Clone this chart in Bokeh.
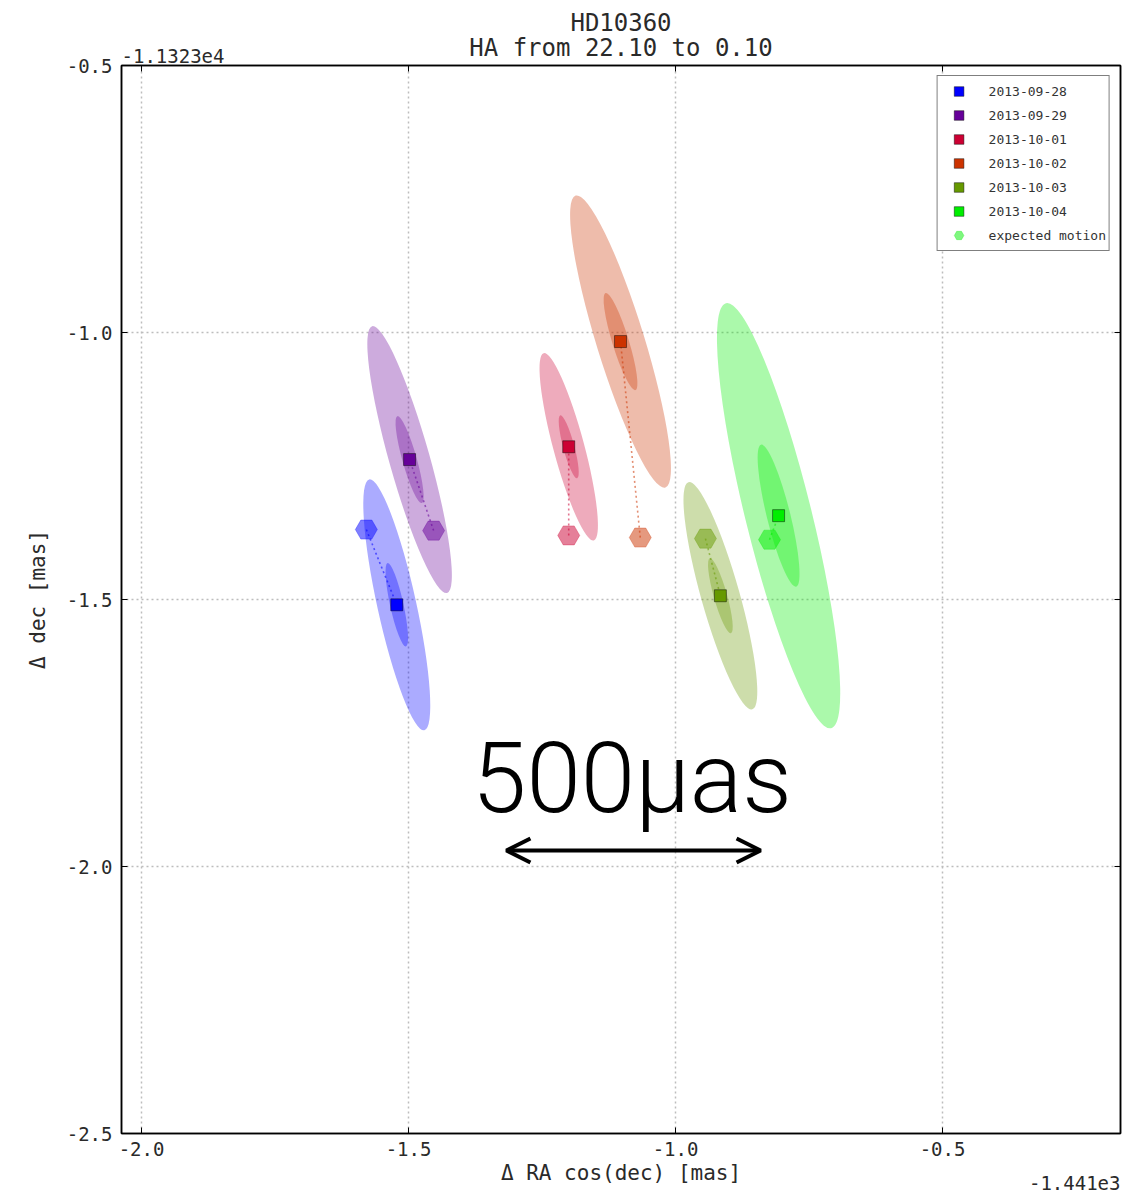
from bokeh.plotting import figure
from bokeh.models import (Range1d, FixedTicker, PrintfTickFormatter, LinearAxis, Title,
                          Label, Arrow, OpenHead, ColumnDataSource, Legend, LegendItem,
                          CustomLabelingPolicy)
from bokeh.embed import file_html
from bokeh.resources import INLINE

# ---------------- data ----------------
dates = ["2013-09-28", "2013-09-29", "2013-10-01", "2013-10-02", "2013-10-03", "2013-10-04"]
colors = ["#0000ff", "#660099", "#cc0033", "#cc3300", "#669900", "#00ee00"]
# measured positions (offset-subtracted, mas)
meas_x = [-1.522, -1.498, -1.200, -1.103, -0.916, -0.807]
meas_y = [-1.510, -1.238, -1.214, -1.017, -1.493, -1.343]
# expected motion positions
exp_x = [-1.579, -1.453, -1.200, -1.066, -0.944, -0.824]
exp_y = [-1.369, -1.371, -1.380, -1.384, -1.386, -1.388]
# error ellipses (full axes, mas; angle in degrees)
outer_major = [0.481, 0.519, 0.363, 0.572, 0.442, 0.820]
outer_minor = [0.073, 0.076, 0.058, 0.090, 0.072, 0.124]
inner_major = [0.160, 0.169, 0.122, 0.190, 0.146, 0.274]
inner_minor = [0.025, 0.027, 0.021, 0.031, 0.025, 0.044]
ell_angle = [102.4, 105.7, 105.0, 107.1, 105.7, 103.9]

x_ticks = [-2.0, -1.5, -1.0, -0.5]
y_ticks = [-2.5, -2.0, -1.5, -1.0, -0.5]
x_offset_text = "-1.441e3"
y_offset_text = "-1.1323e4"
title_main = "HD10360"
title_sub = "HA from 22.10 to 0.10"
x_label = "Δ RA cos(dec) [mas]"
y_label = "Δ dec [mas]"
scale_text = "500μas"
scale_len = 0.476
scale_center = (-1.0787, -1.970)
scale_text_pos = (-1.0815, -1.836)

X_START, X_END = -2.0375, -2.0375 + 999 / 534
Y_START, Y_END = -2.5, -0.5

src = ColumnDataSource(dict(mx=meas_x, my=meas_y, ex=exp_x, ey=exp_y, color=colors,
                            omaj=outer_major, omin=outer_minor, imaj=inner_major,
                            imin=inner_minor, ang=ell_angle, date=dates))

MONO = "DejaVu Sans Mono"
TXT = "#2a2a2a"

p = figure(frame_width=999, frame_height=1068,
           x_range=Range1d(X_START, X_END), y_range=Range1d(Y_START, Y_END),
           output_backend="svg", toolbar_location=None,
           min_border_left=121, min_border_right=20, min_border_top=65, min_border_bottom=66,
           background_fill_color="white", border_fill_color="white")
p.outline_line_color = "black"
p.outline_line_width = 1.5

# ellipses
p.ellipse(x="mx", y="my", width="omaj", height="omin", angle="ang", angle_units="deg",
          source=src, fill_color="color", fill_alpha=0.33, line_color=None)
p.ellipse(x="mx", y="my", width="imaj", height="imin", angle="ang", angle_units="deg",
          source=src, fill_color="color", fill_alpha=0.33, line_color=None)
# dotted connectors
p.segment(x0="ex", y0="ey", x1="mx", y1="my", source=src, line_color="color",
          line_alpha=0.55, line_width=1.6, line_dash="2 3")
# expected motion hexagons
r_hex = p.scatter(x="ex", y="ey", source=src, marker="hex", size=22,
                  fill_color="color", fill_alpha=0.5, line_color="color", line_alpha=0.3)
# measured squares
r_sq = p.scatter(x="mx", y="my", source=src, marker="square", size=12,
                 fill_color="color", line_color="black", line_alpha=0.45, line_width=1)

# axes
xt = FixedTicker(ticks=x_ticks, minor_ticks=[])
yt = FixedTicker(ticks=y_ticks, minor_ticks=[])
for ax, t in ((p.xaxis[0], xt), (p.yaxis[0], yt)):
    ax.ticker = t
    ax.formatter = PrintfTickFormatter(format="%.1f")
    ax.major_tick_in = 6
    ax.major_tick_out = 0
    ax.minor_tick_line_color = None
    ax.axis_line_color = "black"
    ax.axis_line_width = 1.5
    ax.major_tick_line_color = "black"
    ax.major_label_text_font = MONO
    ax.major_label_text_font_size = "19px"
    ax.major_label_text_color = TXT
    ax.major_label_standoff = 9
    ax.axis_label_text_font = MONO
    ax.axis_label_text_font_style = "normal"
    ax.axis_label_text_color = TXT
    ax.axis_label_text_font_size = "21px"
p.xaxis[0].axis_label = x_label
p.xaxis[0].major_label_standoff = 8
p.xaxis[0].axis_label_standoff = 2
p.yaxis[0].axis_label = y_label
p.yaxis[0].axis_label_standoff = 14

no_labels = CustomLabelingPolicy(code="for (const i of indices) indices.unset(i); return indices")
for loc, t in (("above", xt), ("right", yt)):
    ax = LinearAxis(ticker=t, major_tick_in=6, major_tick_out=0, minor_tick_line_color=None,
                    major_label_policy=no_labels, major_label_standoff=0,
                    axis_line_color="black", axis_line_width=1.5)
    p.add_layout(ax, loc)

p.xgrid.ticker = xt
p.ygrid.ticker = yt
for g in (p.xgrid, p.ygrid):
    g.grid_line_color = "#bdbdbd"
    g.grid_line_dash = "2 3"
    g.grid_line_width = 1.5

# x offset text: zero-height title below, lifted onto the axis-label line, right aligned
p.add_layout(Title(text=x_offset_text, align="right", vertical_align="top", text_font=MONO,
                   text_font_size="19px", text_font_style="normal", text_color=TXT,
                   standoff=-24), "below")

# top: offset text, subtitle (overlapping band), main title
p.add_layout(Title(text=y_offset_text, align="left", vertical_align="bottom", text_font=MONO,
                   text_font_size="19px", text_font_style="normal", text_color=TXT,
                   standoff=-16), "above")
p.add_layout(Title(text=title_sub, align="center", vertical_align="bottom", text_font=MONO,
                   text_font_size="24px", text_font_style="normal", text_color=TXT,
                   standoff=-14), "above")
p.add_layout(Title(text=title_main, align="center", vertical_align="bottom", text_font=MONO,
                   text_font_size="24px", text_font_style="normal", text_color=TXT,
                   standoff=4), "above")

# scale annotation
p.add_layout(Label(x=scale_text_pos[0], y=scale_text_pos[1], text=scale_text,
                   text_font="Roboto Light", text_font_size="98px", text_color="black",
                   text_align="center", text_baseline="middle"))
p.add_layout(Arrow(x_start=scale_center[0] - scale_len / 2, y_start=scale_center[1],
                   x_end=scale_center[0] + scale_len / 2, y_end=scale_center[1],
                   line_width=4, line_color="black",
                   start=OpenHead(size=24, line_width=4, line_color="black"),
                   end=OpenHead(size=24, line_width=4, line_color="black")))

# legend
items = [LegendItem(label=d, renderers=[r_sq], index=i) for i, d in enumerate(dates)]
items.append(LegendItem(label="expected motion", renderers=[r_hex], index=5))
leg = Legend(items=items, location="top_right", margin=10, padding=3, spacing=0,
             glyph_width=36, glyph_height=24, label_height=24, label_standoff=12,
             label_text_font=MONO, label_text_font_size="13px", label_text_color="#333",
             border_line_color="black", border_line_width=1.5,
             background_fill_color="white", background_fill_alpha=1.0)
p.add_layout(leg, "center")

open("out.html", "w").write(file_html(p, INLINE))
